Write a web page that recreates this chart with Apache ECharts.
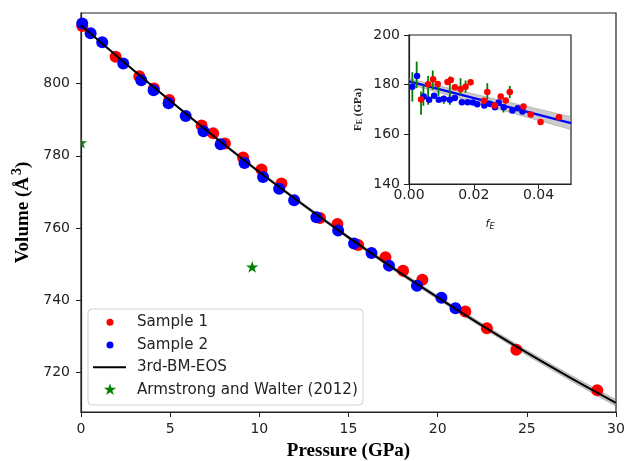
<!DOCTYPE html>
<html>
<head>
<meta charset="utf-8">
<script src="https://cdn.jsdelivr.net/npm/echarts@6/dist/echarts.min.js"></script>
<style>html,body{margin:0;padding:0;background:#fff}#c{width:624px;height:461px}</style>
</head>
<body>
<div id="c"></div>
<script>
// ---------- main panel data ----------
const s1P = [0.07,1.94,3.27,4.09,4.95,6.76,7.41,8.07,9.09,10.12,11.24,13.4,14.38,15.54,17.07,18.06,19.14,21.55,22.76,24.41,28.95];
const s1V = [815.9,807.4,802.0,798.6,795.4,788.4,786.2,783.4,779.5,776.2,772.3,762.8,761.1,755.3,751.9,748.2,745.7,736.9,732.3,726.3,715.1];
const s2P = [0.07,0.54,1.19,2.37,3.38,4.07,4.91,5.87,6.87,7.83,9.17,10.21,11.11,11.95,13.2,14.42,15.31,16.29,17.27,18.84,20.21,21.0];
const s2V = [816.6,813.9,811.4,805.5,800.9,798.1,794.5,791.0,786.8,783.2,778.0,774.1,770.9,767.7,763.0,759.3,755.7,753.1,749.6,744.0,740.7,737.8];
const curveP = [0,2.5,5,7.5,10,12.5,15,17.5,20,22.5,25,27.5,30];
const curveV = [816.1,805.5,795.2,785.2,775.5,766.3,757.4,748.9,740.8,733.0,725.5,718.4,711.6];
const curveHalf = [0.15,0.2,0.25,0.3,0.35,0.4,0.45,0.5,0.55,0.6,0.7,0.8,0.9];
const awP = [0.0, 9.6];
const awV = [783.4, 749.0];
const yTicks = [720,740,760,780,800];
const legendNames = ['Sample 1','Sample 2','3rd-BM-EOS','Armstrong and Walter (2012)'];

// ---------- inset data ----------
const in2f = [0.00103,0.00248,0.00455,0.0062,0.00775,0.0092,0.01074,0.0126,0.01415,0.01632,0.01808,0.01973,0.02107,0.02324,0.0249,0.02655,0.02769,0.02924,0.03192,0.03357,0.03502];
const in2F = [179.2,183.5,175.2,173.9,175.5,173.9,174.3,173.9,174.6,172.9,172.9,172.8,172.1,171.6,172.3,170.9,172.8,170.9,169.6,170.5,169.2];
const in1f = [0.00372,0.00589,0.00744,0.00888,0.01188,0.01291,0.01415,0.01591,0.01746,0.01901,0.02314,0.02417,0.02645,0.02831,0.02986,0.0311,0.03533,0.0376,0.0406,0.04628];
const in1F = [174.0,180.2,182.2,180.3,181.1,181.9,179.0,178.3,179.2,181.0,173.5,177.0,171.6,175.2,173.6,177.0,171.2,168.0,165.0,166.9];
const errf  = [0.00103,0.00237,0.00372,0.00444,0.00589,0.00733,0.00909,0.01074,0.01260,0.01591,0.01746,0.02417,0.02707,0.02914,0.03110,0.03533];
const errLo = [173.2,178.6,167.9,171.5,171.9,177.9,175.5,172.3,171.9,175.9,176.8,173.9,170.9,168.8,174.6,169.9];
const errHi = [185.0,189.3,177.2,179.9,183.5,185.7,181.3,175.5,183.3,182.6,181.7,180.6,172.5,171.9,179.5,172.3];
const fitf = [0, 0.05];
const fitF = [181.3, 164.5];
const fitHalf = [1.1, 2.6];

const STAR_UNIT = [[50,0],[61.2,34.5],[97.6,34.5],[68.2,55.9],[79.4,90.5],[50,69.1],[20.6,90.5],[31.8,55.9],[2.4,34.5],[38.8,34.5]];
const SANS = 'DejaVu Sans';
const SERIF = 'Liberation Serif';
const RED = '#ff0000', BLUE = '#0000ff', GREEN = '#008000';

function zip(a,b){return a.map((v,i)=>[v,b[i]]);}
function starPts(cx, cy, size){
  return STAR_UNIT.map(p=>[cx + (p[0]-50)/100*size, cy + (p[1]-52)/100*size]);
}

function bandItem(xs, ys, half, color){
  return function(params, api){
    const up = xs.map((x,i)=>api.coord([x, ys[i]+half[i]]));
    const lo = xs.map((x,i)=>api.coord([x, ys[i]-half[i]])).reverse();
    return {type:'polygon', shape:{points: up.concat(lo)}, style:{fill: color, stroke:'rgba(110,110,110,0.6)', lineWidth:0.6}};
  };
}

const chart = echarts.init(document.getElementById('c'), null, {renderer:'canvas'});
const axisCommon = {
  axisLine:{show:true, onZero:false, lineStyle:{color:'#222', width:1.2}},
  axisTick:{show:true, inside:false, length:5, lineStyle:{color:'#222', width:1}},
  axisLabel:{color:'#222', fontFamily:SANS, fontSize:14},
  splitLine:{show:false}
};

// legend drawn as graphic (frame + handles + text)
const LX = 110, TX = 137, rows = [322.3, 345, 367.3, 390];
const legendGraphic = [
  {type:'rect', shape:{x:88, y:309, width:275, height:96, r:4}, style:{fill:'rgba(255,255,255,0.85)', stroke:'#d0d0d0', lineWidth:1}, z:20},
  {type:'circle', shape:{cx:LX, cy:rows[0], r:3.5}, style:{fill:RED}, z:21},
  {type:'circle', shape:{cx:LX, cy:rows[1], r:3.5}, style:{fill:BLUE}, z:21},
  {type:'line', shape:{x1:93, y1:rows[2], x2:126, y2:rows[2]}, style:{stroke:'#000', lineWidth:2}, z:21},
  {type:'polygon', shape:{points:starPts(LX, rows[3], 13)}, style:{fill:GREEN}, z:21}
].concat(legendNames.map((n,i)=>({type:'text', x:TX, y:rows[i], z:21,
  style:{text:n, fontFamily:SANS, fontSize:15.1, fill:'#222', verticalAlign:'middle', align:'left'}})));

const option = {
  backgroundColor:'#fff',
  animation:false,
  grid:[
    {left:81, top:13, right:8, bottom:49, outerBoundsMode:'none', containLabel:false, show:true, borderColor:'#222', borderWidth:1.2, backgroundColor:'transparent'},
    {left:409, top:35, width:162, height:149, outerBoundsMode:'none', containLabel:false, show:true, borderColor:'#222', borderWidth:1.2, backgroundColor:'#fff', z:10}
  ],
  xAxis:[
    Object.assign({}, axisCommon, {type:'value', gridIndex:0, min:0, max:30, interval:5,
      name:'Pressure (GPa)', nameLocation:'middle', nameGap:30,
      nameTextStyle:{fontFamily:SERIF, fontWeight:'bold', fontSize:19, color:'#000'},
      axisLabel:Object.assign({}, axisCommon.axisLabel, {margin:10})}),
    Object.assign({}, axisCommon, {type:'value', gridIndex:1, min:0, max:0.05, interval:0.02, z:11,
      name:'{i|f}{sub|E}', nameLocation:'middle', nameGap:33,
      nameTextStyle:{rich:{i:{fontFamily:SANS, fontStyle:'italic', fontSize:11, color:'#222'}, sub:{fontFamily:SANS, fontStyle:'italic', fontSize:8, color:'#222', padding:[6,0,0,0]}}},
      axisLabel:Object.assign({}, axisCommon.axisLabel, {margin:4, formatter:v=>v.toFixed(2), showMaxLabel:false})})
  ],
  yAxis:[
    Object.assign({}, axisCommon, {type:'value', gridIndex:0, min:709.1, max:819.5,
      axisTick:Object.assign({}, axisCommon.axisTick, {customValues:yTicks}),
      axisLabel:Object.assign({}, axisCommon.axisLabel, {customValues:yTicks, margin:11}),
      name:'{b|Volume (Å}{s|3}{b|)}', nameLocation:'middle', nameRotate:90, nameGap:46,
      nameTextStyle:{rich:{b:{fontFamily:SERIF, fontWeight:'bold', fontSize:19, color:'#000'}, s:{fontFamily:SERIF, fontWeight:'bold', fontSize:14, color:'#000', padding:[0,0,10,2]}}}}),
    Object.assign({}, axisCommon, {type:'value', gridIndex:1, min:140, max:200, interval:20, z:11,
      name:'{b|F}{sub|E}{b| (GPa)}', nameLocation:'middle', nameRotate:90, nameGap:45,
      nameTextStyle:{rich:{b:{fontFamily:SERIF, fontWeight:'bold', fontSize:11, color:'#222'}, sub:{fontFamily:SERIF, fontWeight:'bold', fontSize:8, color:'#222', padding:[4,0,0,0]}}},
      axisLabel:Object.assign({}, axisCommon.axisLabel, {margin:9})})
  ],
  graphic: legendGraphic,
  series:[
    {type:'custom', name:'band', xAxisIndex:0, yAxisIndex:0, data:[[0,0]], renderItem:bandItem(curveP, curveV, curveHalf, 'rgba(150,150,150,0.55)'), z:1, silent:true},
    {type:'scatter', name:'Sample 1', xAxisIndex:0, yAxisIndex:0, data:zip(s1P,s1V), symbol:'circle', symbolSize:12, itemStyle:{color:RED, opacity:1}, z:2},
    {type:'scatter', name:'Sample 2', xAxisIndex:0, yAxisIndex:0, data:zip(s2P,s2V), symbol:'circle', symbolSize:12, itemStyle:{color:BLUE, opacity:1}, z:3},
    {type:'line', name:'3rd-BM-EOS', xAxisIndex:0, yAxisIndex:0, data:zip(curveP,curveV), symbol:'none', smooth:0.3, lineStyle:{color:'#000', width:2}, itemStyle:{color:'#000'}, z:4},
    {type:'custom', name:'Armstrong and Walter (2012)', xAxisIndex:0, yAxisIndex:0, clip:true, data:zip(awP,awV), itemStyle:{color:GREEN}, z:5,
      renderItem:function(params, api){
        const p = api.coord([api.value(0), api.value(1)]);
        return {type:'polygon', shape:{points:starPts(p[0], p[1], 13)}, style:{fill:GREEN}};
      }},
    // inset
    {type:'custom', name:'fitband', xAxisIndex:1, yAxisIndex:1, data:[[0,0]], renderItem:bandItem(fitf, fitF, fitHalf, 'rgba(160,160,160,0.55)'), z:12, silent:true},
    {type:'line', name:'fit', xAxisIndex:1, yAxisIndex:1, data:zip(fitf,fitF), symbol:'none', lineStyle:{color:BLUE, width:2.2}, z:13},
    {type:'custom', name:'err', xAxisIndex:1, yAxisIndex:1, data:errf.map((f,i)=>[f, errLo[i], errHi[i]]), z:14,
      renderItem:function(params, api){
        const a = api.coord([api.value(0), api.value(1)]);
        const b = api.coord([api.value(0), api.value(2)]);
        return {type:'line', shape:{x1:a[0], y1:a[1], x2:b[0], y2:b[1]}, style:{stroke:GREEN, lineWidth:1.8}};
      }},
    {type:'scatter', name:'in2', xAxisIndex:1, yAxisIndex:1, data:zip(in2f,in2F), symbol:'circle', symbolSize:6.5, itemStyle:{color:BLUE, opacity:1}, z:15},
    {type:'scatter', name:'in1', xAxisIndex:1, yAxisIndex:1, data:zip(in1f,in1F), symbol:'circle', symbolSize:6.5, itemStyle:{color:RED, opacity:1}, z:16}
  ]
};
chart.setOption(option);
</script>
</body>
</html>
